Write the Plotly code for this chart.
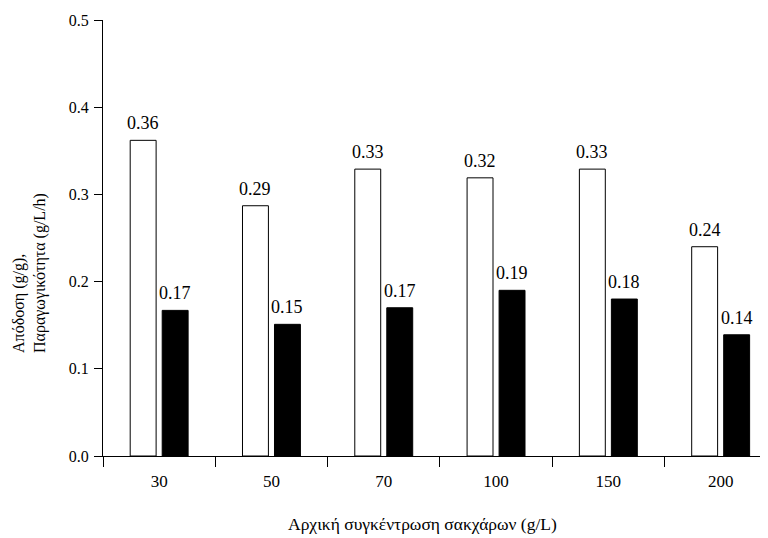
import plotly.graph_objects as go

categories = ["30", "50", "70", "100", "150", "200"]
yield_vals = [0.362, 0.287, 0.329, 0.319, 0.329, 0.240]
prod_vals = [0.167, 0.151, 0.170, 0.190, 0.180, 0.139]

y_title_lines = ["Απόδοση (g/g),", "Παραγωγικότητα (g/L/h)"]
x_title = "Αρχική συγκέντρωση σακχάρων (g/L)"

FONT = "Liberation Serif"

# the page body has an 8px default margin; compensate so the plot lands where the reference has it
OFF = 8
W, H = 768, 538
ml, mt = 103 - OFF, 20 - OFF
plot_right, plot_bottom = 768 - OFF, 456 - OFF
mr, mb = W - plot_right, H - plot_bottom
pw, ph = W - ml - mr, H - mt - mb
cat_px = 112.3

def px_x(x):
    return (x - OFF - ml) / pw

def px_y(y):
    return (plot_bottom - (y - OFF)) / ph

fig = go.Figure()
fig.add_trace(go.Bar(x=categories, y=yield_vals, name="Απόδοση",
                     marker=dict(color="white", line=dict(color="black", width=1))))
fig.add_trace(go.Bar(x=categories, y=prod_vals, name="Παραγωγικότητα",
                     marker=dict(color="black", line=dict(color="black", width=1))))

annotations = []
for vals, shift in ((yield_vals, -16), (prod_vals, 16)):
    for i, v in enumerate(vals):
        annotations.append(dict(x=i, y=v, xref="x", yref="y", text=f"{v:.2f}",
                                showarrow=False, xshift=shift, xanchor="center",
                                yanchor="bottom", yshift=5,
                                font=dict(family=FONT, size=18, color="black")))

annotations.append(dict(x=px_x(29), y=px_y(273), xref="paper", yref="paper",
                        text="<br>".join(y_title_lines), showarrow=False, textangle=-90,
                        align="left", xanchor="center", yanchor="middle",
                        font=dict(family=FONT, size=16, color="black")))
annotations.append(dict(x=px_x(422), y=px_y(524), xref="paper", yref="paper",
                        text=x_title, showarrow=False, xanchor="center", yanchor="middle",
                        font=dict(family=FONT, size=17.5, color="black")))

fig.update_layout(
    width=W, height=H,
    margin=dict(l=ml, r=mr, t=mt, b=mb, autoexpand=False),
    paper_bgcolor="white", plot_bgcolor="white",
    barmode="group", bargap=0.43, bargroupgap=0.19,
    showlegend=False,
    annotations=annotations,
)
fig.update_xaxes(
    type="category", range=[-0.5, -0.5 + pw / cat_px],
    showline=True, linecolor="black", linewidth=1,
    ticks="outside", tickson="boundaries", ticklen=10, tickcolor="black", tickwidth=1,
    ticklabelstandoff=10,
    showgrid=False, zeroline=False,
    tickfont=dict(family=FONT, size=17, color="black"),
)
fig.update_yaxes(
    range=[0, 0.5], dtick=0.1, tickformat=".1f",
    showline=True, linecolor="black", linewidth=1,
    ticks="outside", ticklen=8, tickcolor="black", tickwidth=1,
    ticklabelstandoff=2,
    showgrid=False, zeroline=False,
    tickfont=dict(family=FONT, size=16, color="black"),
)

fig.write_html("out.html")
